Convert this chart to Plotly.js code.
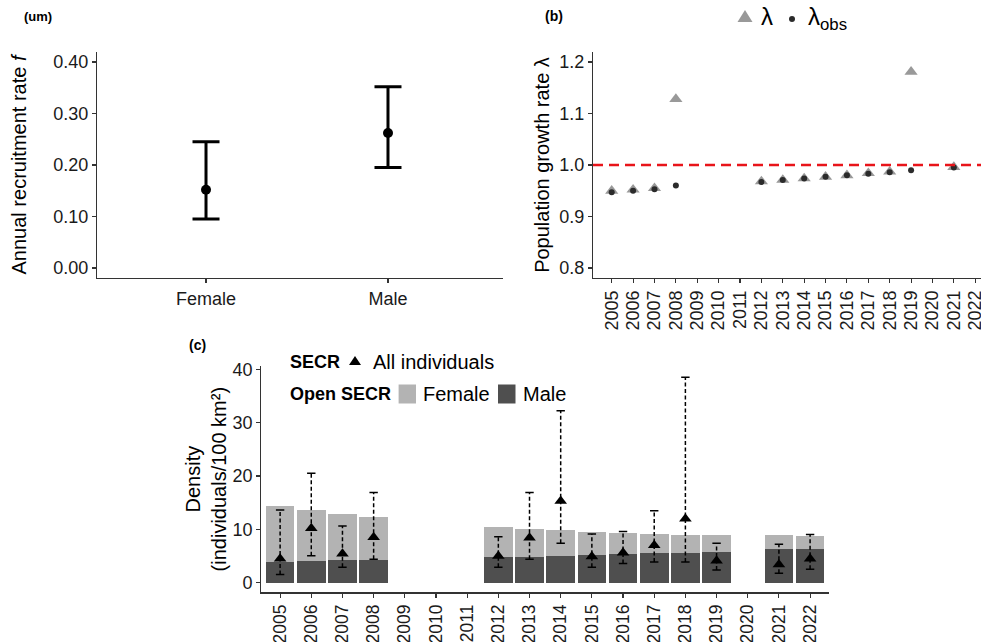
<!DOCTYPE html>
<html><head><meta charset="utf-8">
<script src="https://cdn.plot.ly/plotly-3.0.1.min.js"></script>
<style>html,body{margin:0;padding:0;background:#fff;overflow:hidden}</style>
</head><body><div id="chart" style="width:981px;height:642px"></div>
<script>
// ---- Panel (a): annual recruitment rate by sex ----
const sexes = ['Female', 'Male'];
const recruitMean = [0.152, 0.262];
const recruitLow = [0.095, 0.195];
const recruitHigh = [0.245, 0.352];

// ---- Panel (b): population growth rate ----
const allYears = [2005,2006,2007,2008,2009,2010,2011,2012,2013,2014,2015,2016,2017,2018,2019,2020,2021,2022];
const yearsB = [2005,2006,2007,2008,2012,2013,2014,2015,2016,2017,2018,2019,2021];
const lambdaEst = [0.950,0.952,0.955,1.128,0.968,0.971,0.974,0.977,0.980,0.984,0.987,1.181,0.996];
const lambdaObs = [0.947,0.950,0.953,0.960,0.967,0.971,0.974,0.977,0.980,0.983,0.986,0.990,0.995];

// ---- Panel (c): density ----
const yearsC = [2005,2006,2007,2008,2012,2013,2014,2015,2016,2017,2018,2019,2021,2022];
const maleDensity   = [3.9,4.1,4.25,4.3,4.8,4.9,5.05,5.2,5.3,5.5,5.6,5.75,6.25,6.4];
const femaleDensity = [10.5,9.5,8.65,7.95,5.6,5.2,4.75,4.35,4.1,3.7,3.4,3.15,2.62,2.35];
const secrAll  = [4.5,10.2,5.4,8.5,5.0,8.4,15.3,4.9,5.6,7.0,12.0,4.1,3.4,4.5];
const secrLow  = [1.55,5.05,2.9,4.4,2.9,4.4,7.4,2.9,3.6,3.9,3.9,2.4,1.75,2.5];
const secrHigh = [13.6,20.5,10.6,16.9,8.6,16.9,32.2,9.1,9.6,13.5,38.5,7.4,7.2,9.05];

const W = 981, H = 642;
const FONT = 'Liberation Sans, Arial, Helvetica, sans-serif';
const FEMALE_COL = '#b3b3b3', MALE_COL = '#4f4f4f';
const px = v => v / W;
const py = v => 1 - v / H;

// dashed error line arrays built from data
const errX = [], errY = [];
yearsC.forEach((yr, i) => { errX.push(yr, yr, null); errY.push(secrLow[i], secrHigh[i], null); });

const traces = [
  { type: 'scatter', mode: 'markers', x: sexes, y: recruitMean, xaxis: 'x', yaxis: 'y',
    marker: { color: '#000', size: 10 },
    error_y: { type: 'data', symmetric: false,
      array: recruitHigh.map((h, i) => h - recruitMean[i]),
      arrayminus: recruitMean.map((m, i) => m - recruitLow[i]),
      thickness: 3, width: 13.5, color: '#000' },
    showlegend: false },
  { type: 'scatter', mode: 'markers', x: yearsB, y: lambdaEst, xaxis: 'x2', yaxis: 'y2', name: 'λ',
    marker: { symbol: 'triangle-up', color: '#999999', size: 11.5 }, showlegend: false },
  { type: 'scatter', mode: 'markers', x: yearsB, y: lambdaObs, xaxis: 'x2', yaxis: 'y2', name: 'λobs',
    marker: { color: '#2b2b2b', size: 6 }, showlegend: false },
  { type: 'bar', x: yearsC, y: maleDensity, xaxis: 'x3', yaxis: 'y3', name: 'Male',
    marker: { color: MALE_COL }, width: 0.92, showlegend: false },
  { type: 'bar', x: yearsC, y: femaleDensity, xaxis: 'x3', yaxis: 'y3', name: 'Female',
    marker: { color: FEMALE_COL }, width: 0.92, showlegend: false },
  { type: 'scatter', mode: 'lines', x: errX, y: errY, xaxis: 'x3', yaxis: 'y3',
    line: { color: '#000', width: 1.5, dash: '4px,2.5px' }, connectgaps: false, showlegend: false },
  { type: 'scatter', mode: 'markers', x: yearsC.concat(yearsC), y: secrLow.concat(secrHigh), xaxis: 'x3', yaxis: 'y3',
    marker: { symbol: 'line-ew', size: 6, color: '#000', line: { color: '#000', width: 1.5 } }, showlegend: false },
  { type: 'scatter', mode: 'markers', x: yearsC, y: secrAll, xaxis: 'x3', yaxis: 'y3', name: 'All individuals',
    marker: { symbol: 'triangle-up', color: '#000', size: 11 }, showlegend: false }
];

const axBase = {
  showline: true, linecolor: '#333', linewidth: 1.2, ticks: 'outside', ticklen: 4,
  tickcolor: '#333', tickwidth: 1.1, showgrid: false, zeroline: false,
  tickfont: { family: FONT, size: 18, color: '#1a1a1a' }
};
const titleFont = { family: FONT, size: 20, color: '#000' };

const layout = {
  width: W, height: H, autosize: false,
  margin: { l: 0, r: 0, t: 0, b: 0 },
  paper_bgcolor: '#fff', plot_bgcolor: 'rgba(0,0,0,0)',
  barmode: 'stack', showlegend: false, hovermode: false,
  font: { family: FONT },
  xaxis: Object.assign({}, axBase, { domain: [px(97), px(503)], anchor: 'y', type: 'category',
    range: [-0.599, 1.632] }),
  yaxis: Object.assign({}, axBase, { domain: [py(278), py(52)], anchor: 'x', range: [-0.0194, 0.4194],
    tickvals: [0, 0.1, 0.2, 0.3, 0.4], tickformat: '.2f',
    title: { text: 'Annual recruitment rate <i>f</i>', font: titleFont, standoff: 21 } }),
  xaxis2: Object.assign({}, axBase, { domain: [px(593), 1], anchor: 'y2', range: [2004.125, 2022.27],
    tickvals: allYears, ticktext: allYears.map(String), tickangle: -90, ticklabeloverflow: 'allow' }),
  yaxis2: Object.assign({}, axBase, { domain: [py(278), py(52)], anchor: 'x2', range: [0.7806, 1.2194],
    tickvals: [0.8, 0.9, 1.0, 1.1, 1.2], tickformat: '.1f',
    title: { text: 'Population growth rate λ', font: titleFont, standoff: 4 } }),
  xaxis3: Object.assign({}, axBase, { domain: [px(261.4), px(828.8)], anchor: 'y3', range: [2004.4, 2022.6],
    tickvals: allYears, ticktext: allYears.map(String), tickangle: -90,
    tickfont: { family: FONT, size: 17.5, color: '#1a1a1a' } }),
  yaxis3: Object.assign({}, axBase, { domain: [py(592.3), py(366)], anchor: 'x3', range: [-1.8, 40.6],
    tickvals: [0, 10, 20, 30, 40],
    title: { text: 'Density<br>(individuals/100 km²)', font: titleFont, standoff: 0 } }),
  shapes: [
    { type: 'line', xref: 'x2 domain', yref: 'y2', x0: 0, x1: 1, y0: 1, y1: 1,
      line: { color: '#e8141a', width: 2.6, dash: '10px,6px' } },
    // legend keys panel (b)
    { type: 'path', xref: 'paper', yref: 'paper', xsizemode: 'pixel', ysizemode: 'pixel',
      xanchor: px(745), yanchor: py(17), path: 'M-7.5,-5 L7.5,-5 L0,7 Z',
      fillcolor: '#999999', line: { width: 0 } },
    { type: 'circle', xref: 'paper', yref: 'paper', xsizemode: 'pixel', ysizemode: 'pixel',
      xanchor: px(792), yanchor: py(19), x0: -3, x1: 3, y0: -3, y1: 3,
      fillcolor: '#2b2b2b', line: { width: 0 } },
    // legend keys panel (c)
    { type: 'path', xref: 'paper', yref: 'paper', xsizemode: 'pixel', ysizemode: 'pixel',
      xanchor: px(355), yanchor: py(361), path: 'M-6,-4 L6,-4 L0,5 Z',
      fillcolor: '#000', line: { width: 0 } },
    { type: 'rect', xref: 'paper', yref: 'paper', x0: px(398.6), x1: px(416), y0: py(403.5), y1: py(384.5),
      fillcolor: FEMALE_COL, line: { width: 0 } },
    { type: 'rect', xref: 'paper', yref: 'paper', x0: px(498), x1: px(515.5), y0: py(403.5), y1: py(384.5),
      fillcolor: MALE_COL, line: { width: 0 } }
  ],
  annotations: [
    { text: '<b>(um)</b>', xref: 'paper', yref: 'paper', x: px(22), y: py(16), xanchor: 'left', yanchor: 'middle',
      showarrow: false, font: { family: FONT, size: 13, color: '#000' } },
    { text: '<b>(b)</b>', xref: 'paper', yref: 'paper', x: px(543), y: py(16), xanchor: 'left', yanchor: 'middle',
      showarrow: false, font: { family: FONT, size: 14, color: '#000' } },
    { text: '<b>(c)</b>', xref: 'paper', yref: 'paper', x: px(187), y: py(345), xanchor: 'left', yanchor: 'middle',
      showarrow: false, font: { family: FONT, size: 14, color: '#000' } },
    { text: 'λ', xref: 'paper', yref: 'paper', x: px(759), y: py(16), xanchor: 'left', yanchor: 'middle',
      showarrow: false, font: { family: FONT, size: 24, color: '#000' } },
    { text: 'λ<sub>obs</sub>', xref: 'paper', yref: 'paper', x: px(806), y: py(19), xanchor: 'left', yanchor: 'middle',
      showarrow: false, font: { family: FONT, size: 24, color: '#000' } },
    { text: '<b>SECR</b>', xref: 'paper', yref: 'paper', x: px(288), y: py(362), xanchor: 'left', yanchor: 'middle',
      showarrow: false, font: { family: FONT, size: 18, color: '#000' } },
    { text: 'All individuals', xref: 'paper', yref: 'paper', x: px(371), y: py(362), xanchor: 'left', yanchor: 'middle',
      showarrow: false, font: { family: FONT, size: 20, color: '#000' } },
    { text: '<b>Open SECR</b>', xref: 'paper', yref: 'paper', x: px(288), y: py(394), xanchor: 'left', yanchor: 'middle',
      showarrow: false, font: { family: FONT, size: 18, color: '#000' } },
    { text: 'Female', xref: 'paper', yref: 'paper', x: px(421), y: py(394), xanchor: 'left', yanchor: 'middle',
      showarrow: false, font: { family: FONT, size: 20, color: '#000' } },
    { text: 'Male', xref: 'paper', yref: 'paper', x: px(521), y: py(394), xanchor: 'left', yanchor: 'middle',
      showarrow: false, font: { family: FONT, size: 20, color: '#000' } }
  ]
};

Plotly.newPlot('chart', traces, layout, { staticPlot: true, displayModeBar: false });
</script>
</body></html>
